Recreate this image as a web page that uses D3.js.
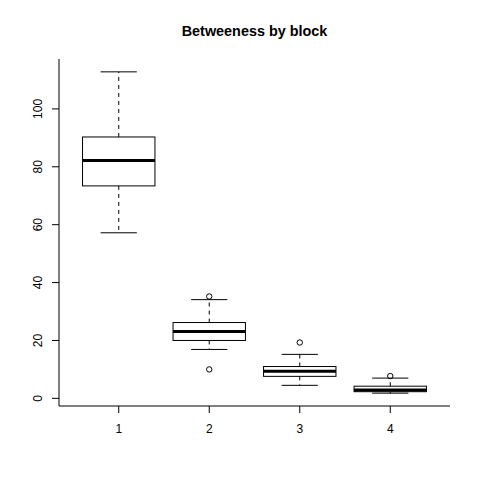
<!DOCTYPE html>
<html>
<head>
<meta charset="utf-8">
<script src="https://cdn.jsdelivr.net/npm/d3@7"></script>
<style>
  html, body { margin: 0; padding: 0; background: #fff; }
  svg { display: block; }
  text { font-family: "Liberation Sans", Arial, sans-serif; }
</style>
</head>
<body>
<div id="chart"></div>
<script>
// ---- data ----
const categories = ["1", "2", "3", "4"];
const lowerWhisker = [57.2, 16.9, 4.5, 1.8];
const q1 = [73.4, 20.0, 7.6, 2.3];
const medians = [82.2, 23.1, 9.4, 2.9];
const q3 = [90.3, 26.2, 11.0, 4.2];
const upperWhisker = [112.8, 34.1, 15.2, 7.0];
const outliers = [[], [35.2, 10.0], [19.3], [7.7]];
const yTicks = [0, 20, 40, 60, 80, 100];
const title = "Betweeness by block";

// ---- layout ----
const W = 480, H = 480;
const mLeft = 59, mRight = 450, mTop = 59, mBottom = 406;

const svg = d3.select("#chart").append("svg")
  .attr("width", W).attr("height", H);

// y scale: data range extended by 4%
const yMin = d3.min([...lowerWhisker, ...outliers.flat()]);
const yMax = d3.max([...upperWhisker, ...outliers.flat()]);
const yr = yMax - yMin;
const y = d3.scaleLinear()
  .domain([yMin - 0.04 * yr, yMax + 0.04 * yr])
  .range([mBottom, mTop]);

// x scale: 0.5 .. n+0.5 extended by 4%
const n = categories.length;
const xr = n;
const x = d3.scaleLinear()
  .domain([0.5 - 0.04 * xr, n + 0.5 + 0.04 * xr])
  .range([mLeft, mRight]);

const boxHalf = 0.4;
const capHalf = 0.2;

const g = svg.append("g");

categories.forEach((c, i) => {
  const cx = x(i + 1);
  const bw = x(i + 1 + boxHalf) - cx;
  const cw = x(i + 1 + capHalf) - cx;
  // whiskers (dashed)
  g.append("line")
    .attr("x1", cx).attr("x2", cx)
    .attr("y1", y(q3[i])).attr("y2", y(upperWhisker[i]))
    .attr("stroke", "#000").attr("stroke-width", 1)
    .attr("stroke-dasharray", "4,4");
  g.append("line")
    .attr("x1", cx).attr("x2", cx)
    .attr("y1", y(q1[i])).attr("y2", y(lowerWhisker[i]))
    .attr("stroke", "#000").attr("stroke-width", 1)
    .attr("stroke-dasharray", "4,4");
  // caps
  [upperWhisker[i], lowerWhisker[i]].forEach(v => {
    g.append("line")
      .attr("x1", cx - cw).attr("x2", cx + cw)
      .attr("y1", y(v)).attr("y2", y(v))
      .attr("stroke", "#000").attr("stroke-width", 1);
  });
  // box
  g.append("rect")
    .attr("x", cx - bw).attr("width", 2 * bw)
    .attr("y", y(q3[i])).attr("height", y(q1[i]) - y(q3[i]))
    .attr("fill", "#fff").attr("stroke", "#000").attr("stroke-width", 1);
  // median
  g.append("line")
    .attr("x1", cx - bw).attr("x2", cx + bw)
    .attr("y1", y(medians[i])).attr("y2", y(medians[i]))
    .attr("stroke", "#000").attr("stroke-width", 3);
  // outliers
  outliers[i].forEach(v => {
    g.append("circle")
      .attr("cx", cx).attr("cy", y(v)).attr("r", 2.7)
      .attr("fill", "none").attr("stroke", "#000").attr("stroke-width", 1);
  });
});

// axes lines (L-shaped frame)
svg.append("line")
  .attr("x1", mLeft).attr("x2", mLeft).attr("y1", mTop).attr("y2", mBottom)
  .attr("stroke", "#000").attr("stroke-width", 1);
svg.append("line")
  .attr("x1", mLeft).attr("x2", mRight).attr("y1", mBottom).attr("y2", mBottom)
  .attr("stroke", "#000").attr("stroke-width", 1);

// y ticks + labels
yTicks.forEach(t => {
  const yy = y(t);
  svg.append("line")
    .attr("x1", mLeft - 7).attr("x2", mLeft).attr("y1", yy).attr("y2", yy)
    .attr("stroke", "#000").attr("stroke-width", 1);
  svg.append("text")
    .attr("transform", `translate(${mLeft - 17},${yy}) rotate(-90)`)
    .attr("text-anchor", "middle")
    .attr("font-size", 12)
    .attr("fill", "#000")
    .text(t);
});

// x ticks + labels
categories.forEach((c, i) => {
  const xx = x(i + 1);
  svg.append("line")
    .attr("x1", xx).attr("x2", xx).attr("y1", mBottom).attr("y2", mBottom + 7)
    .attr("stroke", "#000").attr("stroke-width", 1);
  svg.append("text")
    .attr("x", xx).attr("y", 433)
    .attr("text-anchor", "middle")
    .attr("font-size", 12)
    .attr("fill", "#000")
    .text(c);
});

// title
svg.append("text")
  .attr("x", (mLeft + mRight) / 2).attr("y", 36)
  .attr("text-anchor", "middle")
  .attr("font-size", 14.4)
  .attr("font-weight", "bold")
  .attr("fill", "#000")
  .text(title);
</script>
</body>
</html>
